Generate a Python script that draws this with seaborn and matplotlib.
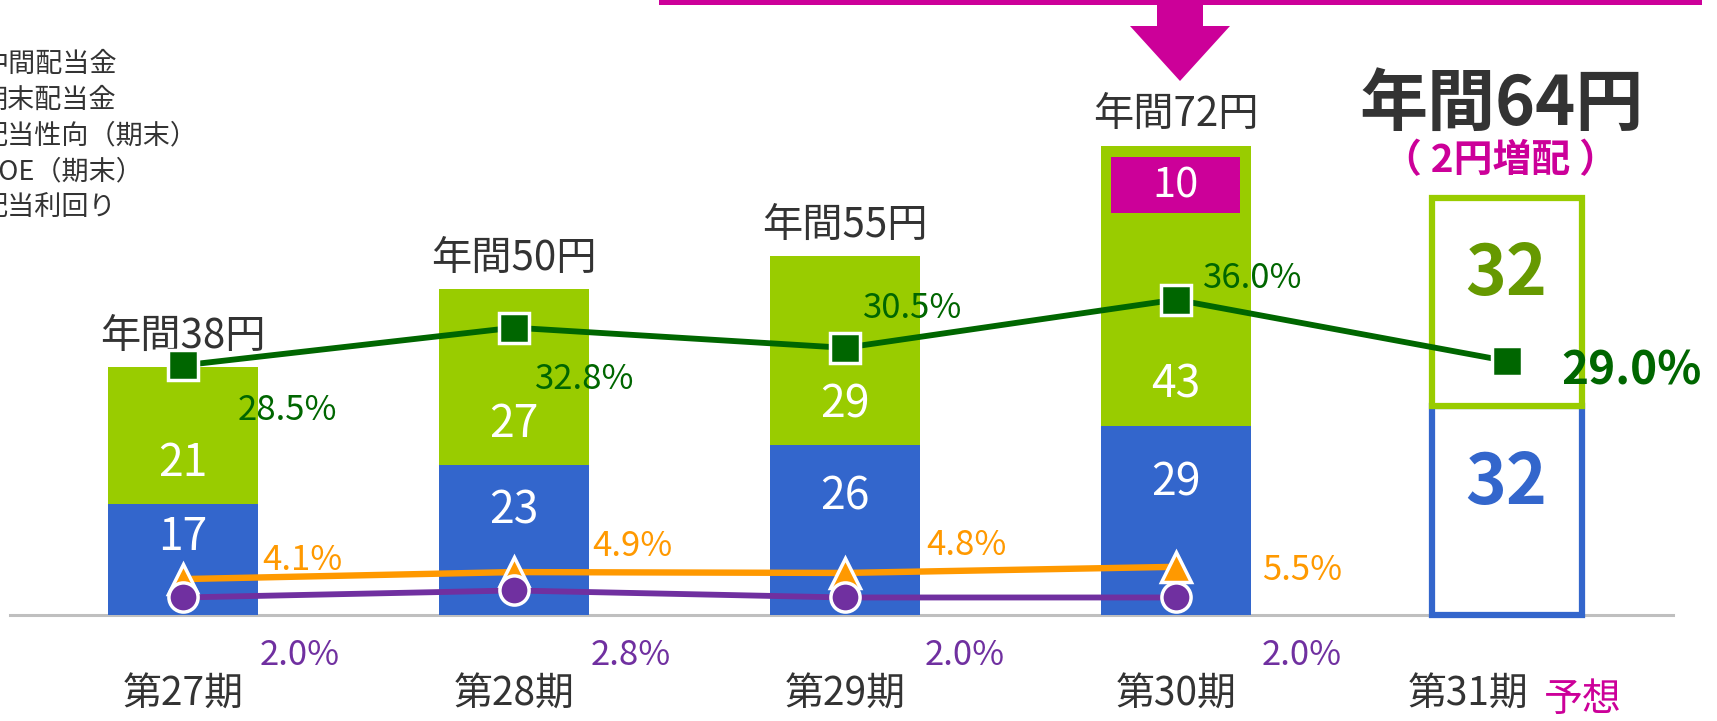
import numpy as np
import pandas as pd
import matplotlib
matplotlib.use("Agg")
import matplotlib.pyplot as plt
from matplotlib.patches import Polygon, Rectangle
from matplotlib.transforms import offset_copy
import seaborn as sns

# ---------------- data ----------------
periods = ["第27期", "第28期", "第29期", "第30期", "第31期"]
interim = [17, 23, 26, 29, 32]          # 中間配当金
year_end = [21, 27, 29, 43, 32]         # 期末配当金
special = [0, 0, 0, 10, 0]              # 記念配当 (part of year-end)
annual = [38, 50, 55, 72, 64]           # 年間
payout = [28.5, 32.8, 30.5, 36.0, 29.0] # 配当性向（期末）
roe = [4.1, 4.9, 4.8, 5.5]              # ROE（期末）
div_yield = [2.0, 2.8, 2.0, 2.0]        # 配当利回り
legend_labels = ["中間配当金", "期末配当金", "配当性向（期末）", "ROE（期末）", "配当利回り"]
forecast_tag = "予想"
forecast_note = "（ 2円増配 ）"

# ---------------- style ----------------
BLUE = "#3366CC"
GREEN = "#99CC00"
DGREEN = "#006600"
OLIVE = "#669900"
ORANGE = "#FF9900"
PURPLE = "#7030A0"
MAGENTA = "#CC0099"
TXT = "#333333"

sns.set_theme(style="white")
plt.rcParams["font.family"] = ["Noto Sans CJK JP", "DejaVu Sans"]

W, H = 1717, 721
fig = plt.figure(figsize=(W / 100, H / 100), dpi=100)
BASE = 615
ax = fig.add_axes([10 / W, (H - BASE) / H, 1663 / W, BASE / H])
BW = 0.453
PX_BAR = 6.52
PX_PCT = 8.76

pos = np.arange(len(periods))
total = [a + b for a, b in zip(interim, year_end)]
n_act = 4
df = pd.DataFrame({"pos": pos[:n_act], "total": total[:n_act], "interim": interim[:n_act]})

sns.barplot(data=df, x="pos", y="total", native_scale=True, width=BW, color=GREEN,
            saturation=1, errorbar=None, linewidth=0, ax=ax, zorder=2)
sns.barplot(data=df, x="pos", y="interim", native_scale=True, width=BW, color=BLUE,
            saturation=1, errorbar=None, linewidth=0, ax=ax, zorder=3)

# special dividend box inset inside the green part
for i, s in enumerate(special):
    if s:
        ax.bar(pos[i], s - 1.5, bottom=total[i] - s - 0.3, width=BW * 0.86, color=MAGENTA,
               linewidth=0, zorder=4)
        ax.text(pos[i], total[i] - s / 2 - 1.2, f"{s}", color="white", fontsize=30,
                ha="center", va="center", zorder=5)

# forecast (outlined)
fi = 4
ax.bar(pos[fi], interim[fi], width=BW, facecolor="white", edgecolor=BLUE, linewidth=4.5,
       zorder=3, clip_on=False)
ax.bar(pos[fi], year_end[fi], bottom=interim[fi], width=BW, facecolor="white",
       edgecolor=GREEN, linewidth=4.5, zorder=4, clip_on=False)

ax.set_xlim(-0.523, 4.503)
ax.set_ylim(0, BASE / PX_BAR)
for s in ["top", "left", "right"]:
    ax.spines[s].set_visible(False)
ax.spines["bottom"].set_color("#BFBFBF")
ax.spines["bottom"].set_linewidth(2.2)
ax.set_yticks([])
ax.set_ylabel("")
ax.set_xlabel("")
ax.set_xticks(pos)
ax.set_xticklabels(periods, fontsize=28, color=TXT)
ax.tick_params(axis="x", length=0, pad=43)
# shift forecast tick label left to make room for 予想
lab = ax.get_xticklabels()[fi]
lab.set_transform(offset_copy(lab.get_transform(), fig=fig, x=-38, y=0, units="dots"))
ax.annotate(forecast_tag, xy=(pos[fi], 0), xycoords=("data", "axes fraction"),
            xytext=(37, -85), textcoords="offset pixels", ha="left", va="center",
            fontsize=28, color=MAGENTA, annotation_clip=False)

# segment value labels
for i in range(n_act):
    ax.text(pos[i], interim[i] * 0.7, f"{interim[i]}", color="white", fontsize=32,
            ha="center", va="center", zorder=6)
    ax.text(pos[i], interim[i] + 6.3, f"{year_end[i]}", color="white", fontsize=32,
            ha="center", va="center", zorder=6)
    ax.annotate(f"年間{annual[i]}円", xy=(pos[i], annual[i]), xytext=(0, 31),
                textcoords="offset pixels", ha="center", va="center", fontsize=29,
                color=TXT, annotation_clip=False)
ax.text(pos[fi], interim[fi] * 0.63, f"{interim[fi]}", color=BLUE, fontsize=50,
        fontweight="bold", ha="center", va="center", zorder=6)
ax.text(pos[fi], interim[fi] + year_end[fi] * 0.63, f"{year_end[fi]}", color=OLIVE,
        fontsize=50, fontweight="bold", ha="center", va="center", zorder=6)
ax.annotate(f"年間{annual[fi]}円", xy=(pos[fi], annual[fi]), xytext=(-5, 92),
            textcoords="offset pixels", ha="center", va="center", fontsize=49,
            fontweight="bold", color=TXT, annotation_clip=False)
ax.annotate(forecast_note, xy=(pos[fi], annual[fi]), xytext=(-6, 37),
            textcoords="offset pixels", ha="center", va="center", fontsize=28,
            fontweight="bold", color=MAGENTA, annotation_clip=False)

# ---------------- lines (secondary axis) ----------------
ax2 = ax.twinx()
ax2.set_ylim(0, BASE / PX_PCT)
sns.lineplot(x=pos[:len(roe)], y=roe, color=ORANGE, marker="^", markersize=21,
             markeredgecolor="white", markeredgewidth=2.5, linewidth=4.6, ax=ax2)
sns.lineplot(x=pos[:len(div_yield)], y=div_yield, color=PURPLE, marker="o", markersize=21,
             markeredgecolor="white", markeredgewidth=2.5, linewidth=4.2, ax=ax2)
sns.lineplot(x=pos[:len(payout)], y=payout, color=DGREEN, marker="s", markersize=21,
             markeredgecolor="white", markeredgewidth=2.5, linewidth=4.2, ax=ax2)
ax2.set_xlim(ax.get_xlim())
ax2.set_yticks([])
ax2.set_ylabel("")
for s in ax2.spines.values():
    s.set_visible(False)

payout_off = [(104, -45), (71, -52), (68, 39), (77, 21), (125, -11)]
roe_off = [(119, 19), (118, 26), (122, 27), (126, -4)]
yield_off = [(117, -58), (117, -65), (120, -58), (126, -58)]
for i, v in enumerate(payout):
    bold = i == fi
    ax2.annotate(f"{v:.1f}%", xy=(pos[i], v), xytext=payout_off[i], textcoords="offset pixels",
                 ha="center", va="center", fontsize=33 if bold else 25,
                 fontweight="bold" if bold else "normal", color=DGREEN, annotation_clip=False)
for i, v in enumerate(roe):
    ax2.annotate(f"{v:.1f}%", xy=(pos[i], v), xytext=roe_off[i], textcoords="offset pixels",
                 ha="center", va="center", fontsize=25, color=ORANGE, annotation_clip=False)
for i, v in enumerate(div_yield):
    ax2.annotate(f"{v:.1f}%", xy=(pos[i], v), xytext=yield_off[i], textcoords="offset pixels",
                 ha="center", va="center", fontsize=25, color=PURPLE, annotation_clip=False)

# ---------------- legend text (cut at left edge, as in the original) ----------------
for k, t in enumerate(legend_labels):
    fig.text(-19 / W, 1 - (64 + 36 * k) / H, t, fontsize=19.5, color=TXT, ha="left", va="center")

# ---------------- top magenta bracket and arrow ----------------
def fx(x):
    return x / W

def fy(y):
    return 1 - y / H

fig.add_artist(Rectangle((fx(659), fy(5)), fx(1702) - fx(659), 5 / H, transform=fig.transFigure,
                         color=MAGENTA, lw=0))
arrow = [(1157, 0), (1203, 0), (1203, 26), (1230, 26), (1180, 81), (1130, 26), (1157, 26)]
fig.add_artist(Polygon([(fx(x), fy(y)) for x, y in arrow], closed=True, transform=fig.transFigure,
                       color=MAGENTA, lw=0))

fig.savefig("out.png", dpi=100, facecolor="white")
